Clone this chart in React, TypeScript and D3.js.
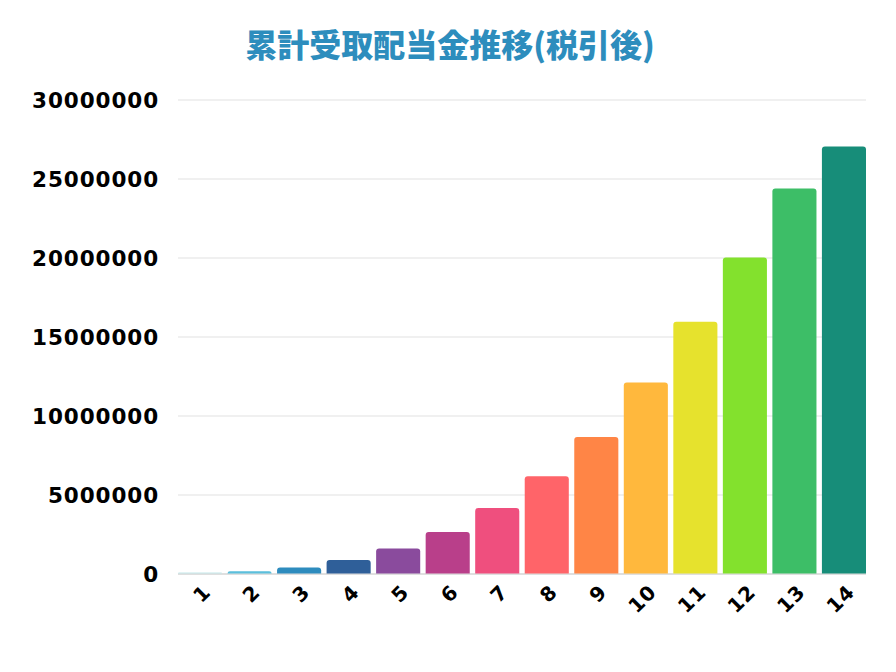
import React from "react";
import * as d3 from "d3";

const title = "累計受取配当金推移(税引後)";
const years = ["1", "2", "3", "4", "5", "6", "7", "8", "9", "10", "11", "12", "13", "14"];
const cumulative = [
  60000, 150000, 380000, 850000, 1590000, 2620000, 4150000, 6160000, 8640000, 12090000, 15930000, 20000000,
  24370000, 27030000,
];
const yTicks = [0, 5000000, 10000000, 15000000, 20000000, 25000000, 30000000];
const barColors = [
  "#c3e8ea", "#5bbfdc", "#2e8cbe", "#2f5f99", "#8a4b9d", "#b93f8a", "#ef4f7e",
  "#ff6469", "#ff8546", "#ffb83d", "#e6e22d", "#83e12d", "#3dbe67", "#178d79",
];

const W = 896;
const H = 672;
const margin = { top: 100, right: 30, bottom: 98, left: 178 };

// bar with rounded top corners
function barPath(x: number, y: number, w: number, h: number, r: number) {
  const rr = Math.min(r, h, w / 2);
  return `M${x},${y + h}V${y + rr}Q${x},${y} ${x + rr},${y}H${x + w - rr}Q${x + w},${y} ${x + w},${y + rr}V${y + h}Z`;
}

export default function App() {
  const x = d3
    .scaleBand<string>()
    .domain(years)
    .range([margin.left, W - margin.right])
    .paddingInner(0.11)
    .paddingOuter(0.0);

  const y = d3.scaleLinear().domain([0, 30000000]).range([H - margin.bottom, margin.top]);
  const axisFont = "'DejaVu Sans', Verdana, sans-serif";

  return (
    <svg width={W} height={H} style={{ position: "absolute", left: 0, top: 0, background: "#fff" }}>
      <text
        x={450}
        y={57}
        textAnchor="middle"
        fontFamily="'Noto Sans CJK JP', sans-serif"
        fontWeight={900}
        fontSize={32}
        fill="#2d8dbd"
      >
        {title}
      </text>

      {/* grid + y labels */}
      {yTicks.map((t) => (
        <g key={t}>
          <line
            x1={margin.left}
            x2={W - margin.right}
            y1={y(t)}
            y2={y(t)}
            stroke={t === 0 ? "#d4d4d4" : "#e1e1e1"}
            strokeWidth={t === 0 ? 1.5 : 1}
          />
          <text
            x={159}
            y={y(t)}
            dy="0.36em"
            textAnchor="end"
            fontFamily={axisFont}
            fontWeight="bold"
            fontSize={21.5}
            letterSpacing={0.9}
            fill="#000"
          >
            {String(t)}
          </text>
        </g>
      ))}

      {/* bars */}
      {years.map((k, i) => {
        const bx = x(k)!;
        const by = y(cumulative[i]);
        const bh = y(0) - by;
        return <path key={k} d={barPath(bx, by - 0.5, x.bandwidth(), bh, 3)} fill={barColors[i]} />;
      })}

      {/* x labels */}
      {years.map((k) => {
        const cx = x(k)! + x.bandwidth() / 2 + 7;
        const cy = 588;
        return (
          <text
            key={k}
            transform={`translate(${cx},${cy}) rotate(-45)`}
            textAnchor="end"
            dy="0.36em"
            fontFamily={axisFont}
            fontWeight="bold"
            fontSize={20}
            letterSpacing={1}
            fill="#000"
          >
            {k}
          </text>
        );
      })}
    </svg>
  );
}
